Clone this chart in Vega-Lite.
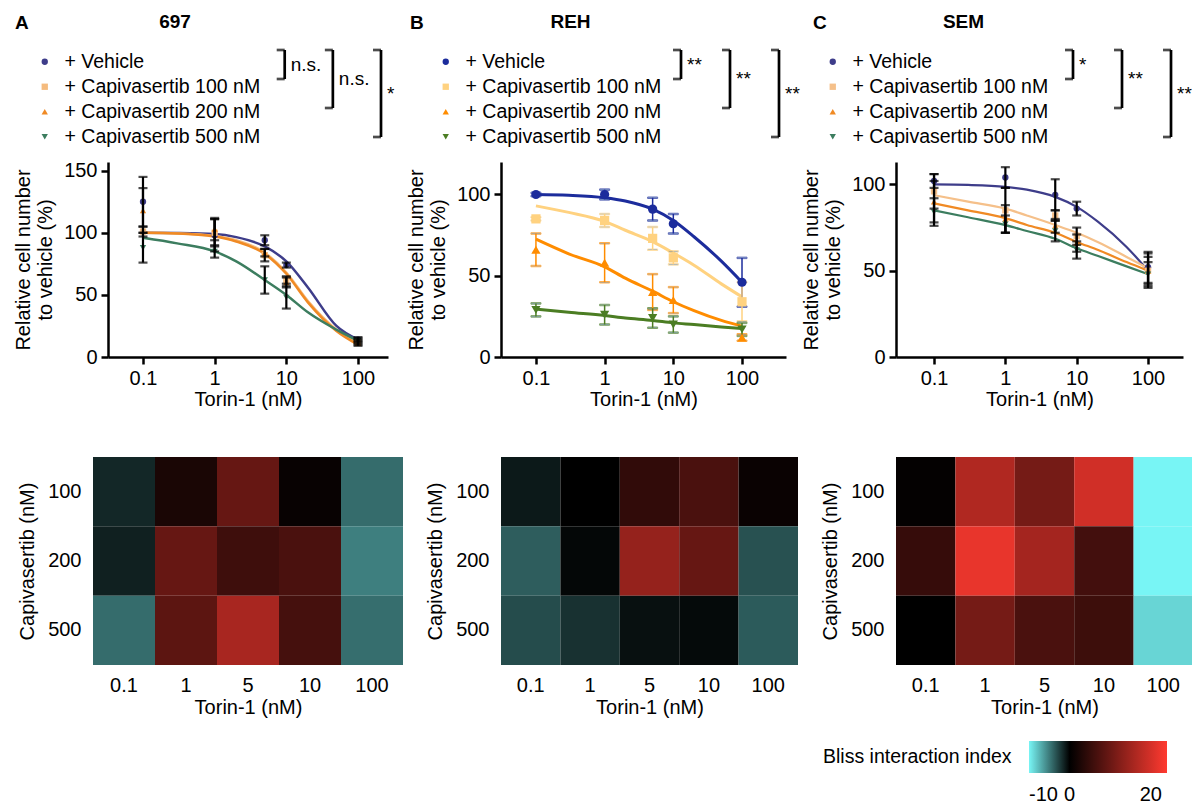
{
"$schema": "https://vega.github.io/schema/vega-lite/v6.json",
"background": "white",
"padding": {"left": 13, "top": 13, "right": 0, "bottom": 5},
"config": {
  "font": "Liberation Sans",
  "view": {"stroke": null},
  "title": {"color": "black", "fontSize": 19, "fontWeight": "bold"},
  "axis": {"labelFontSize": 20, "titleFontSize": 20, "titleFontWeight": "normal", "labelColor": "black", "titleColor": "black", "domainColor": "black", "tickColor": "black", "domainWidth": 2.5, "tickWidth": 2.5, "tickSize": 7, "labelPadding": 4, "grid": false},
  "legend": {"labelColor": "black", "titleColor": "black", "padding": 0}
},
"datasets": {
  "pts": [
    {"cell":"697","series":"Vehicle","torin":0.1,"mean":125,"sd":20},
    {"cell":"697","series":"Vehicle","torin":1,"mean":98,"sd":13},
    {"cell":"697","series":"Vehicle","torin":5,"mean":94,"sd":4},
    {"cell":"697","series":"Vehicle","torin":10,"mean":74,"sd":2},
    {"cell":"697","series":"Vehicle","torin":100,"mean":14,"sd":2},
    {"cell":"697","series":"Capivasertib 100 nM","torin":0.1,"mean":101,"sd":4},
    {"cell":"697","series":"Capivasertib 100 nM","torin":1,"mean":100,"sd":11},
    {"cell":"697","series":"Capivasertib 100 nM","torin":5,"mean":82,"sd":5},
    {"cell":"697","series":"Capivasertib 100 nM","torin":10,"mean":62,"sd":3},
    {"cell":"697","series":"Capivasertib 100 nM","torin":100,"mean":12,"sd":2},
    {"cell":"697","series":"Capivasertib 200 nM","torin":0.1,"mean":118,"sd":18},
    {"cell":"697","series":"Capivasertib 200 nM","torin":1,"mean":103,"sd":9},
    {"cell":"697","series":"Capivasertib 200 nM","torin":5,"mean":84,"sd":3},
    {"cell":"697","series":"Capivasertib 200 nM","torin":10,"mean":60,"sd":4},
    {"cell":"697","series":"Capivasertib 200 nM","torin":100,"mean":11,"sd":2},
    {"cell":"697","series":"Capivasertib 500 nM","torin":0.1,"mean":88,"sd":12},
    {"cell":"697","series":"Capivasertib 500 nM","torin":1,"mean":85,"sd":5},
    {"cell":"697","series":"Capivasertib 500 nM","torin":5,"mean":62,"sd":11},
    {"cell":"697","series":"Capivasertib 500 nM","torin":10,"mean":48,"sd":9},
    {"cell":"697","series":"Capivasertib 500 nM","torin":100,"mean":13,"sd":2},
    {"cell":"REH","series":"Vehicle","torin":0.1,"mean":100,"sd":1},
    {"cell":"REH","series":"Vehicle","torin":1,"mean":100,"sd":3},
    {"cell":"REH","series":"Vehicle","torin":5,"mean":91,"sd":7},
    {"cell":"REH","series":"Vehicle","torin":10,"mean":82,"sd":6},
    {"cell":"REH","series":"Vehicle","torin":100,"mean":46,"sd":15},
    {"cell":"REH","series":"Capivasertib 100 nM","torin":0.1,"mean":85,"sd":1},
    {"cell":"REH","series":"Capivasertib 100 nM","torin":1,"mean":84,"sd":4},
    {"cell":"REH","series":"Capivasertib 100 nM","torin":5,"mean":73,"sd":7},
    {"cell":"REH","series":"Capivasertib 100 nM","torin":10,"mean":61,"sd":4},
    {"cell":"REH","series":"Capivasertib 100 nM","torin":100,"mean":34,"sd":12},
    {"cell":"REH","series":"Capivasertib 200 nM","torin":0.1,"mean":66,"sd":10},
    {"cell":"REH","series":"Capivasertib 200 nM","torin":1,"mean":58,"sd":12},
    {"cell":"REH","series":"Capivasertib 200 nM","torin":5,"mean":40,"sd":11},
    {"cell":"REH","series":"Capivasertib 200 nM","torin":10,"mean":35,"sd":8},
    {"cell":"REH","series":"Capivasertib 200 nM","torin":100,"mean":12,"sd":2},
    {"cell":"REH","series":"Capivasertib 500 nM","torin":0.1,"mean":29,"sd":4},
    {"cell":"REH","series":"Capivasertib 500 nM","torin":1,"mean":26,"sd":6},
    {"cell":"REH","series":"Capivasertib 500 nM","torin":5,"mean":24,"sd":6},
    {"cell":"REH","series":"Capivasertib 500 nM","torin":10,"mean":20,"sd":5},
    {"cell":"REH","series":"Capivasertib 500 nM","torin":100,"mean":17,"sd":4},
    {"cell":"SEM","series":"Vehicle","torin":0.1,"mean":102,"sd":4},
    {"cell":"SEM","series":"Vehicle","torin":1,"mean":104,"sd":6},
    {"cell":"SEM","series":"Vehicle","torin":5,"mean":94,"sd":9},
    {"cell":"SEM","series":"Vehicle","torin":10,"mean":86,"sd":4},
    {"cell":"SEM","series":"Vehicle","torin":100,"mean":52,"sd":9},
    {"cell":"SEM","series":"Capivasertib 100 nM","torin":0.1,"mean":96,"sd":10},
    {"cell":"SEM","series":"Capivasertib 100 nM","torin":1,"mean":85,"sd":13},
    {"cell":"SEM","series":"Capivasertib 100 nM","torin":5,"mean":82,"sd":3},
    {"cell":"SEM","series":"Capivasertib 100 nM","torin":10,"mean":70,"sd":5},
    {"cell":"SEM","series":"Capivasertib 100 nM","torin":100,"mean":50,"sd":10},
    {"cell":"SEM","series":"Capivasertib 200 nM","torin":0.1,"mean":90,"sd":12},
    {"cell":"SEM","series":"Capivasertib 200 nM","torin":1,"mean":80,"sd":8},
    {"cell":"SEM","series":"Capivasertib 200 nM","torin":5,"mean":76,"sd":4},
    {"cell":"SEM","series":"Capivasertib 200 nM","torin":10,"mean":66,"sd":5},
    {"cell":"SEM","series":"Capivasertib 200 nM","torin":100,"mean":50,"sd":8},
    {"cell":"SEM","series":"Capivasertib 500 nM","torin":0.1,"mean":84,"sd":8},
    {"cell":"SEM","series":"Capivasertib 500 nM","torin":1,"mean":77,"sd":5},
    {"cell":"SEM","series":"Capivasertib 500 nM","torin":5,"mean":73,"sd":6},
    {"cell":"SEM","series":"Capivasertib 500 nM","torin":10,"mean":62,"sd":5},
    {"cell":"SEM","series":"Capivasertib 500 nM","torin":100,"mean":48,"sd":7}
  ],
  "fit": [
    {"cell":"697","series":"Vehicle","torin":0.1,"fit":100},
    {"cell":"697","series":"Vehicle","torin":0.3,"fit":99.8},
    {"cell":"697","series":"Vehicle","torin":1,"fit":99},
    {"cell":"697","series":"Vehicle","torin":2,"fit":96.5},
    {"cell":"697","series":"Vehicle","torin":5,"fit":89},
    {"cell":"697","series":"Vehicle","torin":10,"fit":77},
    {"cell":"697","series":"Vehicle","torin":20,"fit":56},
    {"cell":"697","series":"Vehicle","torin":50,"fit":25},
    {"cell":"697","series":"Vehicle","torin":100,"fit":14},
    {"cell":"697","series":"Capivasertib 100 nM","torin":0.1,"fit":100},
    {"cell":"697","series":"Capivasertib 100 nM","torin":0.3,"fit":99.5},
    {"cell":"697","series":"Capivasertib 100 nM","torin":1,"fit":97.5},
    {"cell":"697","series":"Capivasertib 100 nM","torin":2,"fit":94},
    {"cell":"697","series":"Capivasertib 100 nM","torin":5,"fit":84},
    {"cell":"697","series":"Capivasertib 100 nM","torin":10,"fit":68},
    {"cell":"697","series":"Capivasertib 100 nM","torin":20,"fit":45},
    {"cell":"697","series":"Capivasertib 100 nM","torin":50,"fit":22},
    {"cell":"697","series":"Capivasertib 100 nM","torin":100,"fit":11},
    {"cell":"697","series":"Capivasertib 200 nM","torin":0.1,"fit":100},
    {"cell":"697","series":"Capivasertib 200 nM","torin":0.3,"fit":99.5},
    {"cell":"697","series":"Capivasertib 200 nM","torin":1,"fit":97},
    {"cell":"697","series":"Capivasertib 200 nM","torin":2,"fit":93},
    {"cell":"697","series":"Capivasertib 200 nM","torin":5,"fit":83},
    {"cell":"697","series":"Capivasertib 200 nM","torin":10,"fit":67},
    {"cell":"697","series":"Capivasertib 200 nM","torin":20,"fit":44},
    {"cell":"697","series":"Capivasertib 200 nM","torin":50,"fit":21},
    {"cell":"697","series":"Capivasertib 200 nM","torin":100,"fit":10},
    {"cell":"697","series":"Capivasertib 500 nM","torin":0.1,"fit":96},
    {"cell":"697","series":"Capivasertib 500 nM","torin":0.3,"fit":91.5},
    {"cell":"697","series":"Capivasertib 500 nM","torin":1,"fit":85},
    {"cell":"697","series":"Capivasertib 500 nM","torin":2,"fit":77},
    {"cell":"697","series":"Capivasertib 500 nM","torin":5,"fit":62},
    {"cell":"697","series":"Capivasertib 500 nM","torin":10,"fit":50},
    {"cell":"697","series":"Capivasertib 500 nM","torin":20,"fit":36},
    {"cell":"697","series":"Capivasertib 500 nM","torin":50,"fit":22},
    {"cell":"697","series":"Capivasertib 500 nM","torin":100,"fit":13},
    {"cell":"REH","series":"Vehicle","torin":0.1,"fit":100},
    {"cell":"REH","series":"Vehicle","torin":0.3,"fit":99.5},
    {"cell":"REH","series":"Vehicle","torin":1,"fit":98},
    {"cell":"REH","series":"Vehicle","torin":2,"fit":96},
    {"cell":"REH","series":"Vehicle","torin":5,"fit":91},
    {"cell":"REH","series":"Vehicle","torin":10,"fit":84},
    {"cell":"REH","series":"Vehicle","torin":20,"fit":74},
    {"cell":"REH","series":"Vehicle","torin":50,"fit":59},
    {"cell":"REH","series":"Vehicle","torin":100,"fit":46},
    {"cell":"REH","series":"Capivasertib 100 nM","torin":0.1,"fit":93},
    {"cell":"REH","series":"Capivasertib 100 nM","torin":0.3,"fit":89},
    {"cell":"REH","series":"Capivasertib 100 nM","torin":1,"fit":83.5},
    {"cell":"REH","series":"Capivasertib 100 nM","torin":2,"fit":78},
    {"cell":"REH","series":"Capivasertib 100 nM","torin":5,"fit":71},
    {"cell":"REH","series":"Capivasertib 100 nM","torin":10,"fit":64},
    {"cell":"REH","series":"Capivasertib 100 nM","torin":20,"fit":56.5},
    {"cell":"REH","series":"Capivasertib 100 nM","torin":50,"fit":45},
    {"cell":"REH","series":"Capivasertib 100 nM","torin":100,"fit":37},
    {"cell":"REH","series":"Capivasertib 200 nM","torin":0.1,"fit":72.5},
    {"cell":"REH","series":"Capivasertib 200 nM","torin":0.3,"fit":63.5},
    {"cell":"REH","series":"Capivasertib 200 nM","torin":1,"fit":55.5},
    {"cell":"REH","series":"Capivasertib 200 nM","torin":2,"fit":48.5},
    {"cell":"REH","series":"Capivasertib 200 nM","torin":5,"fit":40.5},
    {"cell":"REH","series":"Capivasertib 200 nM","torin":10,"fit":34},
    {"cell":"REH","series":"Capivasertib 200 nM","torin":20,"fit":28.5},
    {"cell":"REH","series":"Capivasertib 200 nM","torin":50,"fit":22.5},
    {"cell":"REH","series":"Capivasertib 200 nM","torin":100,"fit":19},
    {"cell":"REH","series":"Capivasertib 500 nM","torin":0.1,"fit":29.5},
    {"cell":"REH","series":"Capivasertib 500 nM","torin":0.3,"fit":27.5},
    {"cell":"REH","series":"Capivasertib 500 nM","torin":1,"fit":25.5},
    {"cell":"REH","series":"Capivasertib 500 nM","torin":2,"fit":24},
    {"cell":"REH","series":"Capivasertib 500 nM","torin":5,"fit":22.5},
    {"cell":"REH","series":"Capivasertib 500 nM","torin":10,"fit":21},
    {"cell":"REH","series":"Capivasertib 500 nM","torin":20,"fit":20},
    {"cell":"REH","series":"Capivasertib 500 nM","torin":50,"fit":18.5},
    {"cell":"REH","series":"Capivasertib 500 nM","torin":100,"fit":17.5},
    {"cell":"SEM","series":"Vehicle","torin":0.1,"fit":100},
    {"cell":"SEM","series":"Vehicle","torin":0.3,"fit":99.7},
    {"cell":"SEM","series":"Vehicle","torin":1,"fit":98.6},
    {"cell":"SEM","series":"Vehicle","torin":2,"fit":97},
    {"cell":"SEM","series":"Vehicle","torin":5,"fit":92.8},
    {"cell":"SEM","series":"Vehicle","torin":10,"fit":87},
    {"cell":"SEM","series":"Vehicle","torin":20,"fit":78.3},
    {"cell":"SEM","series":"Vehicle","torin":50,"fit":63.8},
    {"cell":"SEM","series":"Vehicle","torin":100,"fit":50},
    {"cell":"SEM","series":"Capivasertib 100 nM","torin":0.1,"fit":93.8},
    {"cell":"SEM","series":"Capivasertib 100 nM","torin":0.3,"fit":90},
    {"cell":"SEM","series":"Capivasertib 100 nM","torin":1,"fit":86},
    {"cell":"SEM","series":"Capivasertib 100 nM","torin":2,"fit":82},
    {"cell":"SEM","series":"Capivasertib 100 nM","torin":5,"fit":76.5},
    {"cell":"SEM","series":"Capivasertib 100 nM","torin":10,"fit":72},
    {"cell":"SEM","series":"Capivasertib 100 nM","torin":20,"fit":66.5},
    {"cell":"SEM","series":"Capivasertib 100 nM","torin":50,"fit":58},
    {"cell":"SEM","series":"Capivasertib 100 nM","torin":100,"fit":51.5},
    {"cell":"SEM","series":"Capivasertib 200 nM","torin":0.1,"fit":89},
    {"cell":"SEM","series":"Capivasertib 200 nM","torin":0.3,"fit":85},
    {"cell":"SEM","series":"Capivasertib 200 nM","torin":1,"fit":80.5},
    {"cell":"SEM","series":"Capivasertib 200 nM","torin":2,"fit":76.5},
    {"cell":"SEM","series":"Capivasertib 200 nM","torin":5,"fit":72},
    {"cell":"SEM","series":"Capivasertib 200 nM","torin":10,"fit":66.7},
    {"cell":"SEM","series":"Capivasertib 200 nM","torin":20,"fit":62},
    {"cell":"SEM","series":"Capivasertib 200 nM","torin":50,"fit":55},
    {"cell":"SEM","series":"Capivasertib 200 nM","torin":100,"fit":50},
    {"cell":"SEM","series":"Capivasertib 500 nM","torin":0.1,"fit":85},
    {"cell":"SEM","series":"Capivasertib 500 nM","torin":0.3,"fit":81},
    {"cell":"SEM","series":"Capivasertib 500 nM","torin":1,"fit":76.4},
    {"cell":"SEM","series":"Capivasertib 500 nM","torin":2,"fit":73},
    {"cell":"SEM","series":"Capivasertib 500 nM","torin":5,"fit":68.5},
    {"cell":"SEM","series":"Capivasertib 500 nM","torin":10,"fit":63},
    {"cell":"SEM","series":"Capivasertib 500 nM","torin":20,"fit":58.5},
    {"cell":"SEM","series":"Capivasertib 500 nM","torin":50,"fit":52.5},
    {"cell":"SEM","series":"Capivasertib 500 nM","torin":100,"fit":48}
  ],
  "bliss": [
    {"cell":"697","capi":100,"torin":0.1,"bliss":-1.6},
    {"cell":"697","capi":100,"torin":1,"bliss":2.4},
    {"cell":"697","capi":100,"torin":5,"bliss":9.6},
    {"cell":"697","capi":100,"torin":10,"bliss":0.75},
    {"cell":"697","capi":100,"torin":100,"bliss":-4.4},
    {"cell":"697","capi":200,"torin":0.1,"bliss":-1.3},
    {"cell":"697","capi":200,"torin":1,"bliss":9.6},
    {"cell":"697","capi":200,"torin":5,"bliss":5.8},
    {"cell":"697","capi":200,"torin":10,"bliss":7.0},
    {"cell":"697","capi":200,"torin":100,"bliss":-5.2},
    {"cell":"697","capi":500,"torin":0.1,"bliss":-4.4},
    {"cell":"697","capi":500,"torin":1,"bliss":8.7},
    {"cell":"697","capi":500,"torin":5,"bliss":15.8},
    {"cell":"697","capi":500,"torin":10,"bliss":6.5},
    {"cell":"697","capi":500,"torin":100,"bliss":-4.5},
    {"cell":"REH","capi":100,"torin":0.1,"bliss":-1.0},
    {"cell":"REH","capi":100,"torin":1,"bliss":0},
    {"cell":"REH","capi":100,"torin":5,"bliss":4.6},
    {"cell":"REH","capi":100,"torin":10,"bliss":7.0},
    {"cell":"REH","capi":100,"torin":100,"bliss":0.9},
    {"cell":"REH","capi":200,"torin":0.1,"bliss":-3.8},
    {"cell":"REH","capi":200,"torin":1,"bliss":-0.3},
    {"cell":"REH","capi":200,"torin":5,"bliss":14.0},
    {"cell":"REH","capi":200,"torin":10,"bliss":9.6},
    {"cell":"REH","capi":200,"torin":100,"bliss":-3.3},
    {"cell":"REH","capi":500,"torin":0.1,"bliss":-3.1},
    {"cell":"REH","capi":500,"torin":1,"bliss":-2.0},
    {"cell":"REH","capi":500,"torin":5,"bliss":-0.65},
    {"cell":"REH","capi":500,"torin":10,"bliss":-0.4},
    {"cell":"REH","capi":500,"torin":100,"bliss":-3.7},
    {"cell":"SEM","capi":100,"torin":0.1,"bliss":0.4},
    {"cell":"SEM","capi":100,"torin":1,"bliss":16.6},
    {"cell":"SEM","capi":100,"torin":5,"bliss":11.0},
    {"cell":"SEM","capi":100,"torin":10,"bliss":19.6},
    {"cell":"SEM","capi":100,"torin":100,"bliss":-10},
    {"cell":"SEM","capi":200,"torin":0.1,"bliss":5.1},
    {"cell":"SEM","capi":200,"torin":1,"bliss":21.8},
    {"cell":"SEM","capi":200,"torin":5,"bliss":15.4},
    {"cell":"SEM","capi":200,"torin":10,"bliss":6.3},
    {"cell":"SEM","capi":200,"torin":100,"bliss":-10},
    {"cell":"SEM","capi":500,"torin":0.1,"bliss":0},
    {"cell":"SEM","capi":500,"torin":1,"bliss":11.0},
    {"cell":"SEM","capi":500,"torin":5,"bliss":7.0},
    {"cell":"SEM","capi":500,"torin":10,"bliss":5.7},
    {"cell":"SEM","capi":500,"torin":100,"bliss":-8.7}
  ],
  "brackets": [
    {"cell":"697","cmp":"100","rank":0,"sig":"n.s."},
    {"cell":"697","cmp":"100","rank":1,"sig":"n.s."},
    {"cell":"697","cmp":"200","rank":0,"sig":"n.s."},
    {"cell":"697","cmp":"200","rank":2,"sig":"n.s."},
    {"cell":"697","cmp":"500","rank":0,"sig":"*"},
    {"cell":"697","cmp":"500","rank":3,"sig":"*"},
    {"cell":"REH","cmp":"100","rank":0,"sig":"**"},
    {"cell":"REH","cmp":"100","rank":1,"sig":"**"},
    {"cell":"REH","cmp":"200","rank":0,"sig":"**"},
    {"cell":"REH","cmp":"200","rank":2,"sig":"**"},
    {"cell":"REH","cmp":"500","rank":0,"sig":"**"},
    {"cell":"REH","cmp":"500","rank":3,"sig":"**"},
    {"cell":"SEM","cmp":"100","rank":0,"sig":"*"},
    {"cell":"SEM","cmp":"100","rank":1,"sig":"*"},
    {"cell":"SEM","cmp":"200","rank":0,"sig":"**"},
    {"cell":"SEM","cmp":"200","rank":2,"sig":"**"},
    {"cell":"SEM","cmp":"500","rank":0,"sig":"**"},
    {"cell":"SEM","cmp":"500","rank":3,"sig":"**"}
  ]
},
"columns": 3,
"spacing": {"row": 25, "column": 98},
"bounds": "flush",
"align": "each",
"center": true,
"resolve": {"scale": {"x": "independent", "y": "independent", "color": "independent", "shape": "independent", "stroke": "independent", "fill": "shared"}},
"concat": [
  {
    "width": 310, "height": 87,
    "title": {"text": "A", "anchor": "start", "frame": "group", "dx": -78, "offset": 16},
    "data": {"name": "brackets"},
    "transform": [{"filter": "datum.cell === '697'"}],
    "layer": [
      {"mark": {"type": "rule", "strokeWidth": 2.7, "color": "black"},
       "encoding": {"x": {"field": "cmp", "type": "nominal", "scale": {"type": "point", "range": [191.7, 288], "padding": 0}, "axis": null},
                    "y": {"aggregate": "min", "field": "rank", "type": "quantitative", "scale": {"domain": [0, 3], "reverse": true, "nice": false, "zero": false}, "axis": null},
                    "y2": {"aggregate": "max", "field": "rank"}}},
      {"mark": {"type": "tick", "thickness": 2.7, "size": 8, "xOffset": -4, "color": "black"},
       "encoding": {"x": {"field": "cmp", "type": "nominal", "axis": null}, "y": {"field": "rank", "type": "quantitative", "axis": null}}},
      {"mark": {"type": "text", "align": "left", "dx": 6, "baseline": "middle", "fontSize": 19, "color": "black"},
       "encoding": {"x": {"field": "cmp", "type": "nominal", "axis": null}, "y": {"aggregate": "mean", "field": "rank", "type": "quantitative", "axis": null}, "text": {"field": "sig", "type": "nominal"}}}
    ]
  },
  {
    "width": 297, "height": 87,
    "title": {"text": "B", "anchor": "start", "frame": "group", "dx": -91, "offset": 16},
    "data": {"name": "brackets"},
    "transform": [{"filter": "datum.cell === 'REH'"}],
    "layer": [
      {"mark": {"type": "rule", "strokeWidth": 2.7, "color": "black"},
       "encoding": {"x": {"field": "cmp", "type": "nominal", "scale": {"type": "point", "range": [180, 278], "padding": 0}, "axis": null},
                    "y": {"aggregate": "min", "field": "rank", "type": "quantitative", "scale": {"domain": [0, 3], "reverse": true, "nice": false, "zero": false}, "axis": null},
                    "y2": {"aggregate": "max", "field": "rank"}}},
      {"mark": {"type": "tick", "thickness": 2.7, "size": 8, "xOffset": -4, "color": "black"},
       "encoding": {"x": {"field": "cmp", "type": "nominal", "axis": null}, "y": {"field": "rank", "type": "quantitative", "axis": null}}},
      {"mark": {"type": "text", "align": "left", "dx": 6, "baseline": "middle", "fontSize": 19, "color": "black"},
       "encoding": {"x": {"field": "cmp", "type": "nominal", "axis": null}, "y": {"aggregate": "mean", "field": "rank", "type": "quantitative", "axis": null}, "text": {"field": "sig", "type": "nominal"}}}
    ]
  },
  {
    "width": 297, "height": 87,
    "title": {"text": "C", "anchor": "start", "frame": "group", "dx": -83, "offset": 16},
    "data": {"name": "brackets"},
    "transform": [{"filter": "datum.cell === 'SEM'"}],
    "layer": [
      {"mark": {"type": "rule", "strokeWidth": 2.7, "color": "black"},
       "encoding": {"x": {"field": "cmp", "type": "nominal", "scale": {"type": "point", "range": [177, 275], "padding": 0}, "axis": null},
                    "y": {"aggregate": "min", "field": "rank", "type": "quantitative", "scale": {"domain": [0, 3], "reverse": true, "nice": false, "zero": false}, "axis": null},
                    "y2": {"aggregate": "max", "field": "rank"}}},
      {"mark": {"type": "tick", "thickness": 2.7, "size": 8, "xOffset": -4, "color": "black"},
       "encoding": {"x": {"field": "cmp", "type": "nominal", "axis": null}, "y": {"field": "rank", "type": "quantitative", "axis": null}}},
      {"mark": {"type": "text", "align": "left", "dx": 6, "baseline": "middle", "fontSize": 19, "color": "black"},
       "encoding": {"x": {"field": "cmp", "type": "nominal", "axis": null}, "y": {"aggregate": "mean", "field": "rank", "type": "quantitative", "axis": null}, "text": {"field": "sig", "type": "nominal"}}}
    ]
  },
  {
    "width": 280, "height": 195,
    "title": {"text": "697", "anchor": "middle", "frame": "group", "dx": -73, "offset": 20},
    "layer": [
      {"data": {"name": "fit"}, "transform": [{"filter": "datum.cell === '697'"}],
       "mark": {"type": "line", "interpolate": "monotone", "strokeWidth": 2.5},
       "encoding": {
         "x": {"field": "torin", "type": "quantitative", "title": "Torin-1 (nM)", "scale": {"type": "log", "domain": [0.0325, 262], "nice": false}, "axis": {"values": [0.1, 1, 10, 100], "format": "~g", "titlePadding": 1}},
         "y": {"field": "fit", "type": "quantitative", "title": ["Relative cell number", "to vehicle (%)"], "scale": {"domain": [0, 157], "nice": false}, "axis": {"values": [0, 50, 100, 150], "titlePadding": 8}},
         "color": {"field": "series", "type": "nominal", "scale": {"domain": ["Vehicle", "Capivasertib 100 nM", "Capivasertib 200 nM", "Capivasertib 500 nM"], "range": ["#3E3D8A", "#F5BB7E", "#F08A24", "#3C7D5F"]}}}},
      {"data": {"name": "pts"}, "transform": [{"filter": "datum.cell === '697'"}],
       "mark": {"type": "point", "filled": true, "size": 40, "opacity": 1},
       "encoding": {
         "x": {"field": "torin", "type": "quantitative", "title": "Torin-1 (nM)"},
         "y": {"field": "mean", "type": "quantitative", "title": ["Relative cell number", "to vehicle (%)"]},
         "color": {"field": "series", "type": "nominal", "legend": {"orient": "none", "legendX": -73, "legendY": -110, "title": null, "labelFontSize": 19.5, "labelOffset": 10, "labelLimit": 400, "symbolSize": 40, "symbolOpacity": 1, "rowPadding": 4, "symbolStrokeWidth": 0, "labelExpr": "'+ ' + datum.label"}},
         "shape": {"field": "series", "type": "nominal", "scale": {"domain": ["Vehicle", "Capivasertib 100 nM", "Capivasertib 200 nM", "Capivasertib 500 nM"], "range": ["circle", "square", "triangle-up", "triangle-down"]}, "legend": {"orient": "none", "legendX": -73, "legendY": -110, "title": null, "labelFontSize": 19.5, "labelOffset": 10, "labelLimit": 400, "symbolSize": 40, "symbolOpacity": 1, "rowPadding": 4, "symbolStrokeWidth": 0, "labelExpr": "'+ ' + datum.label"}}}},
      {"data": {"name": "pts"}, "transform": [{"filter": "datum.cell === '697'"}],
       "mark": {"type": "errorbar", "color": "black", "ticks": {"size": 9, "thickness": 2.2}, "rule": {"strokeWidth": 2.2}},
       "encoding": {
         "x": {"field": "torin", "type": "quantitative", "title": "Torin-1 (nM)"},
         "y": {"field": "mean", "type": "quantitative", "title": ["Relative cell number", "to vehicle (%)"]},
         "yError": {"field": "sd"}}}
    ]
  },
  {
    "width": 285, "height": 195,
    "title": {"text": "REH", "anchor": "middle", "frame": "group", "dx": -73, "offset": 20},
    "layer": [
      {"data": {"name": "fit"}, "transform": [{"filter": "datum.cell === 'REH'"}],
       "mark": {"type": "line", "interpolate": "monotone", "strokeWidth": 3},
       "encoding": {
         "x": {"field": "torin", "type": "quantitative", "title": "Torin-1 (nM)", "scale": {"type": "log", "domain": [0.031, 437], "nice": false}, "axis": {"values": [0.1, 1, 10, 100], "format": "~g", "titlePadding": 1}},
         "y": {"field": "fit", "type": "quantitative", "title": ["Relative cell number", "to vehicle (%)"], "scale": {"domain": [0, 120], "nice": false}, "axis": {"values": [0, 50, 100], "titlePadding": 8}},
         "color": {"field": "series", "type": "nominal", "scale": {"domain": ["Vehicle", "Capivasertib 100 nM", "Capivasertib 200 nM", "Capivasertib 500 nM"], "range": ["#1C2C9C", "#FFD280", "#FF8C00", "#4B7D23"]}}}},
      {"data": {"name": "pts"}, "transform": [{"filter": "datum.cell === 'REH'"}],
       "mark": {"type": "errorbar", "ticks": {"size": 10, "thickness": 1.5}, "rule": {"strokeWidth": 1.5}},
       "encoding": {
         "x": {"field": "torin", "type": "quantitative", "title": "Torin-1 (nM)"},
         "y": {"field": "mean", "type": "quantitative", "title": ["Relative cell number", "to vehicle (%)"]},
         "yError": {"field": "sd"},
         "stroke": {"field": "series", "type": "nominal", "scale": {"domain": ["Vehicle", "Capivasertib 100 nM", "Capivasertib 200 nM", "Capivasertib 500 nM"], "range": ["#1C2C9C", "#FFD280", "#FF8C00", "#4B7D23"]}, "legend": null}}},
      {"data": {"name": "pts"}, "transform": [{"filter": "datum.cell === 'REH'"}],
       "mark": {"type": "point", "filled": true, "size": 85, "opacity": 1},
       "encoding": {
         "x": {"field": "torin", "type": "quantitative", "title": "Torin-1 (nM)"},
         "y": {"field": "mean", "type": "quantitative", "title": ["Relative cell number", "to vehicle (%)"]},
         "color": {"field": "series", "type": "nominal", "legend": {"orient": "none", "legendX": -65, "legendY": -110, "title": null, "labelFontSize": 19.5, "labelOffset": 10, "labelLimit": 400, "symbolSize": 40, "symbolOpacity": 1, "rowPadding": 4, "symbolStrokeWidth": 0, "labelExpr": "'+ ' + datum.label"}},
         "shape": {"field": "series", "type": "nominal", "scale": {"domain": ["Vehicle", "Capivasertib 100 nM", "Capivasertib 200 nM", "Capivasertib 500 nM"], "range": ["circle", "square", "triangle-up", "triangle-down"]}, "legend": {"orient": "none", "legendX": -65, "legendY": -110, "title": null, "labelFontSize": 19.5, "labelOffset": 10, "labelLimit": 400, "symbolSize": 40, "symbolOpacity": 1, "rowPadding": 4, "symbolStrokeWidth": 0, "labelExpr": "'+ ' + datum.label"}}}}
    ]
  },
  {
    "width": 287, "height": 195,
    "title": {"text": "SEM", "anchor": "middle", "frame": "group", "dx": -76, "offset": 20},
    "layer": [
      {"data": {"name": "fit"}, "transform": [{"filter": "datum.cell === 'SEM'"}],
       "mark": {"type": "line", "interpolate": "monotone", "strokeWidth": 2.2},
       "encoding": {
         "x": {"field": "torin", "type": "quantitative", "title": "Torin-1 (nM)", "scale": {"type": "log", "domain": [0.0293, 309], "nice": false}, "axis": {"values": [0.1, 1, 10, 100], "format": "~g", "titlePadding": 1}},
         "y": {"field": "fit", "type": "quantitative", "title": ["Relative cell number", "to vehicle (%)"], "scale": {"domain": [0, 113], "nice": false}, "axis": {"values": [0, 50, 100], "titlePadding": 8}},
         "color": {"field": "series", "type": "nominal", "scale": {"domain": ["Vehicle", "Capivasertib 100 nM", "Capivasertib 200 nM", "Capivasertib 500 nM"], "range": ["#3E3D8A", "#F5C08A", "#F08A24", "#3C7D5F"]}}}},
      {"data": {"name": "pts"}, "transform": [{"filter": "datum.cell === 'SEM'"}],
       "mark": {"type": "point", "filled": true, "size": 40, "opacity": 1},
       "encoding": {
         "x": {"field": "torin", "type": "quantitative", "title": "Torin-1 (nM)"},
         "y": {"field": "mean", "type": "quantitative", "title": ["Relative cell number", "to vehicle (%)"]},
         "color": {"field": "series", "type": "nominal", "legend": {"orient": "none", "legendX": -73, "legendY": -110, "title": null, "labelFontSize": 19.5, "labelOffset": 10, "labelLimit": 400, "symbolSize": 40, "symbolOpacity": 1, "rowPadding": 4, "symbolStrokeWidth": 0, "labelExpr": "'+ ' + datum.label"}},
         "shape": {"field": "series", "type": "nominal", "scale": {"domain": ["Vehicle", "Capivasertib 100 nM", "Capivasertib 200 nM", "Capivasertib 500 nM"], "range": ["circle", "square", "triangle-up", "triangle-down"]}, "legend": {"orient": "none", "legendX": -73, "legendY": -110, "title": null, "labelFontSize": 19.5, "labelOffset": 10, "labelLimit": 400, "symbolSize": 40, "symbolOpacity": 1, "rowPadding": 4, "symbolStrokeWidth": 0, "labelExpr": "'+ ' + datum.label"}}}},
      {"data": {"name": "pts"}, "transform": [{"filter": "datum.cell === 'SEM'"}],
       "mark": {"type": "errorbar", "color": "black", "ticks": {"size": 9, "thickness": 2.2}, "rule": {"strokeWidth": 2.2}},
       "encoding": {
         "x": {"field": "torin", "type": "quantitative", "title": "Torin-1 (nM)"},
         "y": {"field": "mean", "type": "quantitative", "title": ["Relative cell number", "to vehicle (%)"]},
         "yError": {"field": "sd"}}}
    ]
  },
  {
    "width": 310, "height": 283,
    "data": {"name": "bliss"},
    "transform": [{"filter": "datum.cell === '697'"}],
    "mark": {"type": "rect"},
    "encoding": {
      "x": {"field": "torin", "type": "ordinal", "title": "Torin-1 (nM)", "scale": {"paddingInner": 0, "paddingOuter": 0}, "axis": {"domain": false, "ticks": false, "labelAngle": 0, "labelPadding": 10, "titlePadding": 2}},
      "y": {"field": "capi", "type": "ordinal", "title": "Capivasertib (nM)", "scale": {"paddingInner": 0, "paddingOuter": 0.541, "align": 1}, "axis": {"domain": false, "ticks": false, "labelPadding": 12, "titlePadding": 10, "titleY": 179}},
      "fill": {"field": "bliss", "type": "quantitative", "scale": {"type": "linear", "domain": [-10, 0, 24], "range": ["#78F5F5", "#000000", "#FF3A30"], "interpolate": "rgb", "clamp": true},
               "legend": {"orient": "none", "legendX": 730, "legendY": 691, "direction": "horizontal", "gradientLength": 138, "gradientThickness": 32, "title": "Bliss interaction index", "titleOrient": "left", "titleFontSize": 19.5, "titleFontWeight": "normal", "titlePadding": 17, "titleLimit": 400, "labelFontSize": 20, "labelOffset": 12, "values": [-10, 0, 20], "labelExpr": "'' + datum.value", "gradientStrokeWidth": 0}}
    }
  },
  {
    "width": 297, "height": 283,
    "data": {"name": "bliss"},
    "transform": [{"filter": "datum.cell === 'REH'"}],
    "mark": {"type": "rect"},
    "encoding": {
      "x": {"field": "torin", "type": "ordinal", "title": "Torin-1 (nM)", "scale": {"paddingInner": 0, "paddingOuter": 0}, "axis": {"domain": false, "ticks": false, "labelAngle": 0, "labelPadding": 10, "titlePadding": 2}},
      "y": {"field": "capi", "type": "ordinal", "title": "Capivasertib (nM)", "scale": {"paddingInner": 0, "paddingOuter": 0.541, "align": 1}, "axis": {"domain": false, "ticks": false, "labelPadding": 12, "titlePadding": 10, "titleY": 179}},
      "fill": {"field": "bliss", "type": "quantitative",
               "legend": {"orient": "none", "legendX": 730, "legendY": 691, "direction": "horizontal", "gradientLength": 138, "gradientThickness": 32, "title": "Bliss interaction index", "titleOrient": "left", "titleFontSize": 19.5, "titleFontWeight": "normal", "titlePadding": 17, "titleLimit": 400, "labelFontSize": 20, "labelOffset": 12, "values": [-10, 0, 20], "labelExpr": "'' + datum.value", "gradientStrokeWidth": 0}}
    }
  },
  {
    "width": 297, "height": 283,
    "data": {"name": "bliss"},
    "transform": [{"filter": "datum.cell === 'SEM'"}],
    "mark": {"type": "rect"},
    "encoding": {
      "x": {"field": "torin", "type": "ordinal", "title": "Torin-1 (nM)", "scale": {"paddingInner": 0, "paddingOuter": 0}, "axis": {"domain": false, "ticks": false, "labelAngle": 0, "labelPadding": 10, "titlePadding": 2}},
      "y": {"field": "capi", "type": "ordinal", "title": "Capivasertib (nM)", "scale": {"paddingInner": 0, "paddingOuter": 0.541, "align": 1}, "axis": {"domain": false, "ticks": false, "labelPadding": 12, "titlePadding": 10, "titleY": 179}},
      "fill": {"field": "bliss", "type": "quantitative",
               "legend": {"orient": "none", "legendX": 730, "legendY": 691, "direction": "horizontal", "gradientLength": 138, "gradientThickness": 32, "title": "Bliss interaction index", "titleOrient": "left", "titleFontSize": 19.5, "titleFontWeight": "normal", "titlePadding": 17, "titleLimit": 400, "labelFontSize": 20, "labelOffset": 12, "values": [-10, 0, 20], "labelExpr": "'' + datum.value", "gradientStrokeWidth": 0}}
    }
  }
]
}
